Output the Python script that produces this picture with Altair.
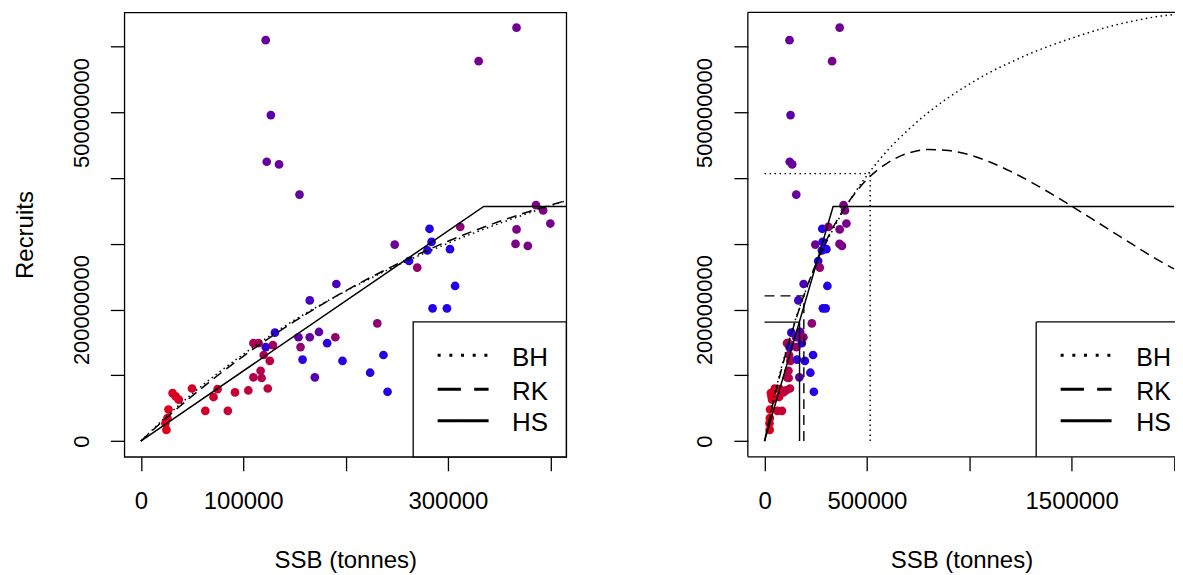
import altair as alt
import pandas as pd

FONT = "Liberation Sans"

# ---- observed stock-recruit pairs (SSB in tonnes, recruits in numbers) ----
ssb = [25000, 24000, 26000, 27000, 31000, 34000, 37000, 50000, 63000, 71000,
       75000, 85000, 92000, 105000, 110000, 117000, 118000, 124000, 126000, 120000,
       129000, 110000, 115000, 122000,
       131000, 154000, 165000, 174000, 156000, 158000, 170000, 182000, 190000, 197000,
       191000, 165000, 224000, 231000, 237000, 241000, 285000, 299000, 307000, 262000,
       270000, 248000, 280000, 284000, 302000, 282000, 312000, 366000, 378000, 367000,
       400000, 386000, 393000,
       122000, 367000, 330000, 127000, 123000, 135000, 155000]
recruits = [17e6, 27e6, 35e6, 48e6, 73e6, 68e6, 63e6, 80e6, 46e6, 67e6,
            79e6, 46e6, 74e6, 77e6, 97e6, 107e6, 96e6, 80e6, 122e6, 131e6,
            146e6, 149e6, 149e6, 143e6,
            165e6, 158e6, 158e6, 166e6, 143e6, 124e6, 97e6, 149e6, 158e6, 122e6,
            239e6, 214e6, 104e6, 179e6, 131e6, 75e6, 202e6, 202e6, 236e6, 274e6,
            264e6, 299e6, 290e6, 303e6, 292e6, 323e6, 326e6, 300e6, 297e6, 322e6,
            331e6, 359e6, 351e6,
            610e6, 629e6, 578e6, 496e6, 425e6, 421e6, 375e6]
shade = [0.03, 0.03, 0.04, 0.05, 0.06, 0.06, 0.07, 0.08, 0.10, 0.12,
         0.12, 0.14, 0.14, 0.18, 0.25, 0.25, 0.25, 0.20, 0.22, 0.28,
         0.30, 0.28, 0.28, 0.85,
         0.90, 0.65, 0.62, 0.65, 0.40, 0.90, 0.70, 0.90, 0.40, 0.92,
         0.75, 0.78, 0.92, 0.42, 0.92, 0.95, 0.95, 0.95, 0.95, 0.92,
         0.40, 0.58, 0.92, 0.95, 0.95, 0.95, 0.45, 0.52, 0.52, 0.52,
         0.55, 0.50, 0.50,
         0.62, 0.58, 0.55, 0.68, 0.62, 0.62, 0.62]

# ---- fitted curves ----
curve_ssb = [0, 25000, 50000, 100000, 150000, 200000, 250000, 300000, 350000, 400000,
             500000, 600000, 700000, 800000, 900000, 1000000, 1100000, 1200000, 1300000,
             1400000, 1500000, 1600000, 1700000, 1800000, 1900000, 2000000, 2040000]
bh_recruits = [0, 37.5e6, 71.8e6, 132e6, 184e6, 228e6, 267e6, 301e6, 331e6, 358e6,
               404e6, 442e6, 473e6, 500e6, 523e6, 543e6, 561e6, 576e6, 590e6,
               602e6, 613e6, 623e6, 632e6, 639e6, 645e6, 649e6, 650e6]
rk_recruits = [0, 35.3e6, 68.5e6, 129e6, 182e6, 228.6e6, 269e6, 304e6, 334e6, 359e6,
               398e6, 423e6, 438e6, 443.6e6, 442e6, 435.6e6, 424.7e6, 410.7e6, 394.4e6,
               376.4e6, 357.5e6, 338e6, 318.4e6, 298.8e6, 279.5e6, 262e6]
hs_ssb = [0, 335000, 2000000]
hs_recruits = [0, 357e6, 357e6]

ref_model = ["BH", "RK", "HS"]
ref_ssb = [516000, 192000, 171000]
ref_recruits = [407e6, 221e6, 181e6]

legend_labels = ["BH", "RK", "HS"]

# ---- tables ----
points = pd.DataFrame({"ssb": ssb, "rec": recruits, "shade": shade})
smooth = pd.concat([
    pd.DataFrame({"model": "BH", "ssb": curve_ssb, "rec": bh_recruits}),
    pd.DataFrame({"model": "RK", "ssb": curve_ssb[:len(rk_recruits)], "rec": rk_recruits}),
], ignore_index=True)
hs = pd.DataFrame({"model": "HS", "ssb": hs_ssb, "rec": hs_recruits})
refs = pd.DataFrame({"model": ref_model, "ssb": ref_ssb, "rec": ref_recruits,
                     "zero": [0] * len(ref_model)})
dummy = pd.DataFrame({"a": [0]})

DASH = alt.Scale(domain=["BH", "RK", "HS"], range=[[1.5, 3.5], [10, 6], [1, 0]])
COLOR = alt.Scale(domain=[0, 1], range=["#e60014", "#1800f4"], interpolate="rgb")

YDOM = [-23.9e6, 652.3e6]
YTICKS = [0, 1e8, 2e8, 3e8, 4e8, 5e8, 6e8]
H = 445


def shown(vals):
    cond = " || ".join(f"datum.value == {int(v)}" for v in vals)
    return f"({cond}) ? datum.label : ''"


def make_panel(width, xdom, xticks, xshown, ytitle, legend_left, legend_text_x,
               legend_font, full_box):
    xaxis = alt.Axis(values=xticks, format="d", labelExpr=shown(xshown),
                     labelBaseline="alphabetic", labelPadding=38, labelFontSize=24,
                     labelFlush=False, labelOverlap=False,
                     title="SSB (tonnes)", titleY=111, titleBaseline="alphabetic",
                     titleAlign="center", titleFontSize=24)
    ykw = dict(values=YTICKS, format="d", labelExpr=shown([0, 2e8, 5e8]),
               labelAngle=-90, labelAlign="center", labelBaseline="alphabetic",
               labelPadding=22, labelFontSize=22, labelOverlap=False, labelFlush=False)
    if ytitle:
        ykw.update(title=ytitle, titleX=-91.8, titleY=222.5, titleAngle=-90,
                   titleAlign="center", titleBaseline="alphabetic", titleFontSize=24)
    else:
        ykw.update(title=None)
    yaxis = alt.Axis(**ykw)
    xs = alt.Scale(domain=xdom, nice=False, zero=False)
    ys = alt.Scale(domain=YDOM, nice=False, zero=False)

    def X(f):
        return alt.X(f, type="quantitative", scale=xs, axis=xaxis)

    def Y(f):
        return alt.Y(f, type="quantitative", scale=ys, axis=yaxis)

    pts = alt.Chart(points).mark_circle(size=76, opacity=1).encode(
        x=X("ssb"), y=Y("rec"),
        color=alt.Color("shade:Q", scale=COLOR, legend=None))
    curv = alt.Chart(smooth).mark_line(color="black", strokeWidth=1.5,
                                       interpolate="monotone", clip=True).encode(
        x=X("ssb"), y=Y("rec"),
        strokeDash=alt.StrokeDash("model:N", scale=DASH, legend=None),
        detail="model:N")
    hsl = alt.Chart(hs).mark_line(color="black", strokeWidth=1.5, clip=True).encode(
        x=X("ssb"), y=Y("rec"))
    layers = [pts, curv, hsl]

    if not full_box:
        hrule = alt.Chart(refs).mark_rule(color="black", strokeWidth=1.4).encode(
            x=X("zero"), x2="ssb", y=Y("rec"),
            strokeDash=alt.StrokeDash("model:N", scale=DASH, legend=None))
        vrule = alt.Chart(refs).mark_rule(color="black", strokeWidth=1.4).encode(
            x=X("ssb"), y=Y("zero"), y2="rec",
            strokeDash=alt.StrokeDash("model:N", scale=DASH, legend=None))
        layers += [hrule, vrule]

    # legend box
    if full_box:
        layers.append(alt.Chart(dummy).mark_rect(fill="white", stroke="black", strokeWidth=1.3).encode(
            x=alt.value(legend_left), x2=alt.value(width), y=alt.value(310), y2=alt.value(H)))
    else:
        layers.append(alt.Chart(dummy).mark_rect(fill="white").encode(
            x=alt.value(legend_left), x2=alt.value(width), y=alt.value(310), y2=alt.value(H)))
        layers.append(alt.Chart(dummy).mark_rule(color="black", strokeWidth=1.3).encode(
            x=alt.value(legend_left), x2=alt.value(width), y=alt.value(310)))
        layers.append(alt.Chart(dummy).mark_rule(color="black", strokeWidth=1.3).encode(
            x=alt.value(legend_left), y=alt.value(310), y2=alt.value(H)))
    line_y = [343.3, 377.3, 409.0]
    text_y = [354, 388, 419]
    dashes = [[3, 8.7], [23.3, 13.3], [1, 0]]
    lx0 = legend_left + 24.5
    for lab, ly, ty, d in zip(legend_labels, line_y, text_y, dashes):
        layers.append(alt.Chart(dummy).mark_rule(color="black", strokeWidth=3, strokeDash=d).encode(
            x=alt.value(lx0), x2=alt.value(lx0 + 51), y=alt.value(ly)))
        layers.append(alt.Chart(dummy).mark_text(text=lab, align="left", baseline="alphabetic",
                                                 fontSize=legend_font, font=FONT, color="black"
                                                 ).encode(
            x=alt.value(legend_text_x), y=alt.value(ty)))

    if full_box:
        view = alt.ViewBackground(stroke="black", strokeWidth=1.3, fill="white")
    else:
        view = alt.ViewBackground(strokeOpacity=0, fill="white")
        for enc in [dict(x=alt.value(0), x2=alt.value(width), y=alt.value(0)),
                    dict(x=alt.value(0), y=alt.value(0), y2=alt.value(H)),
                    dict(x=alt.value(0), x2=alt.value(width), y=alt.value(H))]:
            layers.append(alt.Chart(dummy).mark_rule(color="black", strokeWidth=1.3).encode(**enc))

    return alt.layer(*layers).properties(width=width, height=H, view=view)


p1 = make_panel(442.5, [-16100, 415600], [0, 100000, 200000, 300000, 400000],
                [0, 100000, 300000], "Recruits", 289.2, 388.2, 26, True)
p2 = make_panel(427.7, [-81500, 2004841], [0, 500000, 1000000, 1500000, 2000000],
                [0, 500000, 1500000], None, 288.7, 389.0, 25, False)

chart = alt.hconcat(p1, p2, spacing=181.3, bounds="flush").properties(
    padding={"left": 4.5, "top": 3, "right": -1, "bottom": 0},
    background="white",
).configure_axis(
    grid=False, domain=False, ticks=True, tickColor="black", tickWidth=1.3, tickSize=14,
    labelColor="black", titleColor="black", labelFont=FONT, titleFont=FONT,
    titleFontWeight="normal",
)

chart.save("out.html", embed_options={"renderer": "svg", "actions": False})
